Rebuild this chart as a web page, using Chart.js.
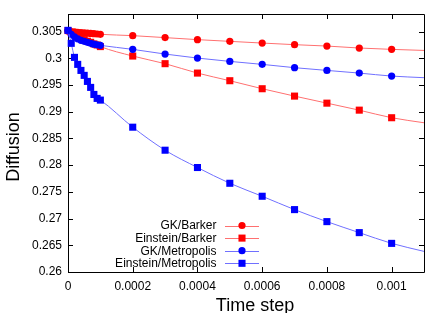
<!DOCTYPE html>
<html><head><meta charset="utf-8">
<script src="https://cdn.jsdelivr.net/npm/chart.js@4/dist/chart.umd.min.js"></script>
<style>html,body{margin:0;padding:0;background:#fff;}</style>
</head><body>
<canvas id="c" width="447" height="313"></canvas>
<script>
// ---- data ----
const timeSteps = [0, 0.00001, 0.00002, 0.00003, 0.00004, 0.00005, 0.00006, 0.00007, 0.00008, 0.00009, 0.0001,
                   0.0002, 0.0003, 0.0004, 0.0005, 0.0006, 0.0007, 0.0008, 0.0009, 0.001];
const gkBarker = [0.3051, 0.3050, 0.30495, 0.30488, 0.30482, 0.30477, 0.30471, 0.30466, 0.30461, 0.30456, 0.3045,
                  0.30425, 0.30388, 0.3035, 0.30318, 0.30286, 0.30256, 0.3023, 0.30193, 0.30168];
const einsteinBarker = [0.3052, 0.3048, 0.3045, 0.3041, 0.3038, 0.3035, 0.3032, 0.3030, 0.3027, 0.3025, 0.3022,
                        0.30043, 0.299, 0.29724, 0.29581, 0.29431, 0.29293, 0.29161, 0.2903, 0.28888];
const gkMetropolis = [0.3052, 0.30449, 0.30402, 0.30365, 0.30337, 0.30318, 0.30299, 0.30281, 0.30266, 0.30253, 0.30243,
                      0.30168, 0.3008, 0.30005, 0.29943, 0.29887, 0.29825, 0.29774, 0.29724, 0.29668];
const einsteinMetropolis = [0.30524, 0.30281, 0.30018, 0.29887, 0.29774, 0.29681, 0.29568, 0.29456, 0.29324, 0.2925, 0.29218,
                            0.28711, 0.2828, 0.27956, 0.27661, 0.27418, 0.27168, 0.26943, 0.26737, 0.26536];
// fit lines run on to the right edge of the plot
const fitEndX = 0.0011;
const fitEnd = { gkBarker: 0.30148, einsteinBarker: 0.28794, gkMetropolis: 0.29638, einsteinMetropolis: 0.26386 };
const seriesNames = ['GK/Barker', 'Einstein/Barker', 'GK/Metropolis', 'Einstein/Metropolis'];
const xTickValues = [0, 0.0002, 0.0004, 0.0006, 0.0008, 0.001];
const yTickValues = [0.26, 0.265, 0.27, 0.275, 0.28, 0.285, 0.29, 0.295, 0.3, 0.305];

// ---- styling ----
const RED = '#ff0000', BLUE = '#0000ff', RED_LINE = '#ff7070', BLUE_LINE = '#7070ff';
const FONT = "'Liberation Sans', Arial, Helvetica, sans-serif";
Chart.defaults.font.family = FONT;
Chart.defaults.font.size = 12;
Chart.defaults.color = '#000';

const series = [
  { name: seriesNames[0], vals: gkBarker, end: fitEnd.gkBarker, marker: RED, line: RED_LINE, style: 'circle', r: 3.6 },
  { name: seriesNames[1], vals: einsteinBarker, end: fitEnd.einsteinBarker, marker: RED, line: RED_LINE, style: 'rect', r: 5 },
  { name: seriesNames[2], vals: gkMetropolis, end: fitEnd.gkMetropolis, marker: BLUE, line: BLUE_LINE, style: 'circle', r: 3.6 },
  { name: seriesNames[3], vals: einsteinMetropolis, end: fitEnd.einsteinMetropolis, marker: BLUE, line: BLUE_LINE, style: 'rect', r: 5 }
];

const datasets = [];
let drawIdx = 0;
series.forEach(s => {
  const pts = timeSteps.map((x, i) => ({ x, y: s.vals[i] }));
  datasets.push({
    label: s.name + ' fit', data: pts.concat([{ x: fitEndX, y: s.end }]),
    showLine: true, borderColor: s.line, borderWidth: 1, pointRadius: 0, pointHoverRadius: 0,
    cubicInterpolationMode: 'monotone', order: 100 - drawIdx++
  });
  datasets.push({
    label: s.name, data: pts, showLine: false,
    pointStyle: s.style, pointRadius: s.r, pointHoverRadius: s.r,
    pointBackgroundColor: s.marker, pointBorderColor: s.marker, pointBorderWidth: 0,
    clip: false, order: 100 - drawIdx++
  });
});

const fmt = v => String(parseFloat(Number(v).toFixed(6)));

const framePlugin = {
  id: 'frame',
  beforeDatasetsDraw(chart) {
    const { ctx, chartArea: a, scales } = chart;
    ctx.save();
    ctx.strokeStyle = '#000';
    ctx.lineWidth = 1;
    ctx.beginPath();
    ctx.rect(Math.round(a.left) + 0.5, Math.round(a.top) + 0.5, Math.round(a.right - a.left), Math.round(a.bottom - a.top));
    ctx.stroke();
    const tl = 5;
    ctx.beginPath();
    scales.x.ticks.forEach(t => {
      const px = Math.round(scales.x.getPixelForValue(t.value)) + 0.5;
      ctx.moveTo(px, a.bottom); ctx.lineTo(px, a.bottom - tl);
      ctx.moveTo(px, a.top); ctx.lineTo(px, a.top + tl);
    });
    scales.y.ticks.forEach(t => {
      const py = Math.round(scales.y.getPixelForValue(t.value)) + 0.5;
      ctx.moveTo(a.left, py); ctx.lineTo(a.left + tl, py);
      ctx.moveTo(a.right, py); ctx.lineTo(a.right - tl, py);
    });
    ctx.stroke();
    ctx.restore();
  },
  afterDraw(chart) {
    const { ctx } = chart;
    ctx.save();
    ctx.fillStyle = '#000';
    ctx.font = '18px ' + FONT;
    ctx.textAlign = 'center';
    ctx.textBaseline = 'alphabetic';
    ctx.fillText('Time step', 255, 311);
    ctx.translate(19, 147);
    ctx.rotate(-Math.PI / 2);
    ctx.fillText('Diffusion', 0, 0);
    ctx.restore();

    // key
    ctx.save();
    ctx.font = '12px ' + FONT;
    ctx.textAlign = 'right';
    ctx.textBaseline = 'middle';
    const rows = [225.5, 238.1, 250.7, 263.3];
    series.forEach((s, i) => {
      const y = rows[i];
      ctx.fillStyle = '#000';
      ctx.fillText(s.name, 216.5, y + 0.5);
      ctx.strokeStyle = s.line; ctx.lineWidth = 1;
      ctx.beginPath(); ctx.moveTo(225, Math.round(y) + 0.5); ctx.lineTo(259, Math.round(y) + 0.5); ctx.stroke();
      ctx.fillStyle = s.marker;
      if (s.style === 'circle') {
        ctx.beginPath(); ctx.arc(242, y, s.r, 0, Math.PI * 2); ctx.fill();
      } else {
        const h = s.r * Math.SQRT1_2;
        ctx.fillRect(242 - h, y - h, 2 * h, 2 * h);
      }
    });
    ctx.restore();
  }
};

new Chart(document.getElementById('c'), {
  type: 'scatter',
  data: { datasets },
  options: {
    responsive: false,
    animation: false,
    events: [],
    layout: { padding: { left: 0, right: 23, top: 14, bottom: 0 } },
    plugins: { legend: { display: false }, tooltip: { enabled: false } },
    scales: {
      x: {
        type: 'linear', min: 0, max: 0.0011,
        grid: { display: false, drawTicks: false }, border: { display: false },
        afterFit: s => { s.height = 41; },
        afterBuildTicks: s => { s.ticks = xTickValues.map(v => ({ value: v })); },
        ticks: { padding: 7, maxRotation: 0, autoSkip: false, callback: v => fmt(v), font: { size: 12 } }
      },
      y: {
        type: 'linear', min: 0.26, max: 0.3083,
        grid: { display: false, drawTicks: false }, border: { display: false },
        afterFit: s => { s.width = 68; },
        afterBuildTicks: s => { s.ticks = yTickValues.map(v => ({ value: v })); },
        ticks: { padding: 6, autoSkip: false, callback: v => fmt(v), font: { size: 12 } }
      }
    }
  },
  plugins: [framePlugin]
});
</script>
</body></html>
